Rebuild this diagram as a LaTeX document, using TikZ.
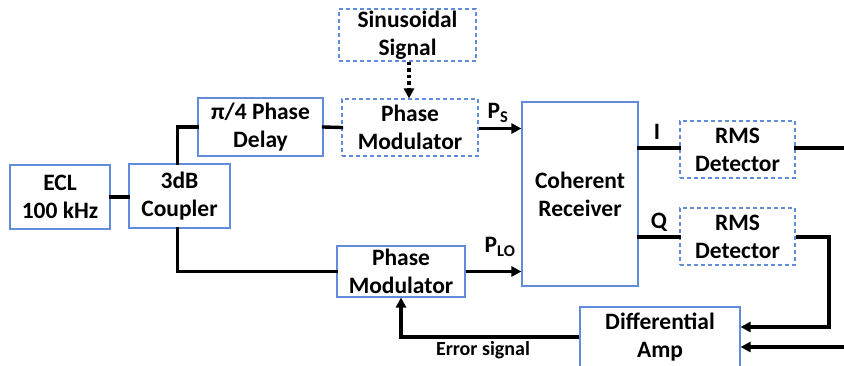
\documentclass[tikz,border=0pt]{standalone}
\usepackage{fontspec}
\setmainfont{Carlito}
\usetikzlibrary{arrows.meta}
\definecolor{boxblue}{RGB}{96,140,218}
\begin{document}
\begin{tikzpicture}[x=1pt,y=-1pt,
  box/.style={draw=boxblue,line width=1.1pt,fill=white,inner sep=0pt,align=center,
    font=\fontsize{23.5}{28}\selectfont\bfseries},
  dbox/.style={box,dash pattern=on 4pt off 3pt},
  wire/.style={line width=3.4pt,line cap=rect},
  arr/.style={line width=3.4pt,-{Triangle[length=10pt,width=10pt]}},
  lbl/.style={font=\fontsize{23.5}{28}\selectfont\bfseries,inner sep=0pt}]
\clip (0,0) rectangle (844,365);
\fill[white] (0,0) rectangle (844,365);
% boxes
\node[dbox,minimum width=137pt,minimum height=52pt] (sin) at (407.5,35) {Sinusoidal\\Signal};
\node[box,minimum width=125pt,minimum height=58pt] (delay) at (260.5,127) {π/4 Phase\\Delay};
\node[dbox,minimum width=136pt,minimum height=57pt] (pmt) at (410,127.5) {Phase\\Modulator};
\node[box,minimum width=116pt,minimum height=184pt] (cr) at (580,194) {Coherent\\Receiver};
\node[dbox,minimum width=115pt,minimum height=57pt] (rms1) at (737.5,149.5) {RMS\\Detector};
\node[dbox,minimum width=115pt,minimum height=57pt] (rms2) at (737.5,236.5) {RMS\\Detector};
\node[box,minimum width=160pt,minimum height=60pt] (diff) at (660,337) {Differential\\Amp};
\node[box,minimum width=100pt,minimum height=64pt] (ecl) at (60,197) {ECL\\100 kHz};
\node[box,minimum width=101pt,minimum height=64pt] (cpl) at (179.5,196) {3dB\\Coupler};
\node[box,minimum width=128pt,minimum height=51pt] (pmb) at (401,271.5) {Phase\\Modulator};
% coordinates
\coordinate (o1) at (846,148);
\coordinate (c1) at (829,327);
\coordinate (i2) at (846,347);
% connectors
\draw[wire] (ecl.east |- 0,197) -- (cpl.west |- 0,197);
\draw[wire] ([xshift=-2pt]cpl.north) |- (delay.west);
\draw[wire] (delay.east) -- (pmt.west);
\draw[arr,dash pattern=on 3.5pt off 3pt,line cap=butt] ([xshift=1.5pt]sin.south) -- ([xshift=1.5pt]sin.south |- pmt.north);
\draw[arr] ([yshift=-1pt]pmt.east) -- ([yshift=-1pt]pmt.east -| cr.west);
\draw[wire] (cr.east |- 0,148) -- (rms1.west |- 0,148);
\draw[wire] (cr.east |- 0,237) -- (rms2.west |- 0,237);
\draw[wire] (rms1.east |- 0,148) -- (o1);
\draw[arr] (rms2.east |- 0,237) -| (c1) -- (c1 -| diff.east);
\draw[arr] (i2) -- (i2 -| diff.east);
\draw[wire] ([xshift=-2pt]cpl.south) |- (pmb.west);
\draw[arr] (pmb.east) -- (pmb.east -| cr.west);
\draw[arr] (diff.west) -| (pmb.south);
% labels
\node[lbl] (ps) at (498,113) {P\textsubscript{S}};
\node[lbl] (plo) at (500,247) {P\textsubscript{LO}};
\node[lbl] (li) at (657,132) {I};
\node[lbl] (lq) at (659,222) {Q};
\node[lbl,font=\fontsize{20}{24}\selectfont\bfseries] (err) at (483,350) {Error signal};
\end{tikzpicture}
\end{document}
